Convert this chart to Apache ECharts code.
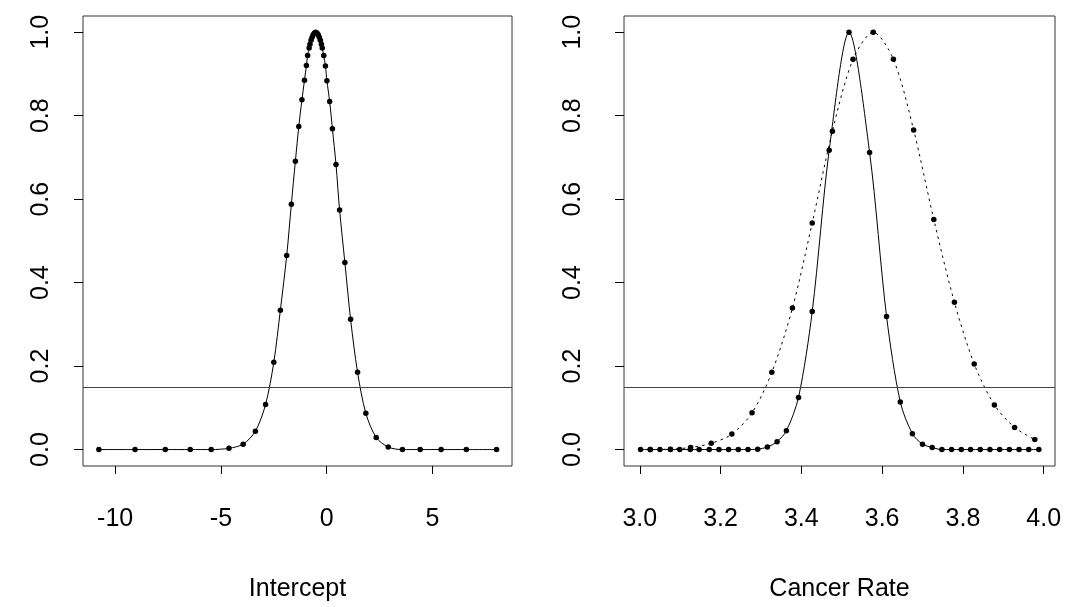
<!DOCTYPE html>
<html>
<head>
<meta charset="utf-8">
<script src="https://cdn.jsdelivr.net/npm/echarts@6/dist/echarts.min.js"></script>
<style>
  html, body { margin: 0; padding: 0; background: #fff; }
  #chart { width: 1066px; height: 607px; }
</style>
</head>
<body>
<div id="chart"></div>
<script>
// left panel: profile likelihood of the intercept
const interceptX = [-10.77, -9.06, -7.63, -6.45, -5.46, -4.62, -3.95, -3.37, -2.89, -2.50,
  -2.19, -1.89, -1.67, -1.48, -1.32, -1.17, -1.05, -0.96, -0.90, -0.83,
  -0.79, -0.74, -0.69, -0.64, -0.58, -0.52, -0.46, -0.40, -0.35, -0.30, -0.25,
  -0.21, -0.14, -0.06, 0.01, 0.14, 0.27, 0.44, 0.61, 0.86, 1.13,
  1.46, 1.85, 2.34, 2.91, 3.58, 4.42, 5.41, 6.60, 8.03]
const interceptLik = [0, 0, 0, 0, 0, 0.003, 0.013, 0.044, 0.108, 0.209,
  0.334, 0.465, 0.588, 0.691, 0.774, 0.838, 0.885, 0.920, 0.944, 0.962,
  0.971, 0.981, 0.988, 0.994, 0.998, 1.0, 0.998, 0.994, 0.988, 0.981, 0.971,
  0.962, 0.944, 0.919, 0.884, 0.834, 0.769, 0.683, 0.574, 0.448, 0.312,
  0.185, 0.087, 0.029, 0.006, 0, 0, 0, 0, 0]

// right panel: cancer rate, solid curve
const rateX = [3.002, 3.026, 3.050, 3.076, 3.099, 3.125, 3.147, 3.172, 3.196, 3.220,
  3.244, 3.268, 3.292, 3.316, 3.340, 3.363, 3.393, 3.427, 3.469, 3.518,
  3.569, 3.611, 3.645, 3.675, 3.700, 3.724, 3.748, 3.772, 3.796, 3.819,
  3.843, 3.867, 3.891, 3.915, 3.939, 3.963, 3.988]
const rateLik = [0, 0, 0, 0, 0, 0, 0, 0, 0, 0,
  0, 0, 0.001, 0.006, 0.019, 0.045, 0.125, 0.331, 0.717, 1.0,
  0.712, 0.319, 0.114, 0.038, 0.013, 0.005, 0, 0, 0, 0,
  0, 0, 0, 0, 0, 0, 0]

// right panel: cancer rate, dotted curve
const rateX2 = [3.026, 3.076, 3.126, 3.177, 3.228, 3.278, 3.327, 3.378, 3.427, 3.477,
  3.528, 3.578, 3.628, 3.678, 3.728, 3.779, 3.828, 3.878, 3.928, 3.978]
const rateLik2 = [0, 0.001, 0.005, 0.015, 0.037, 0.088, 0.185, 0.339, 0.543, 0.763,
  0.935, 1.0, 0.935, 0.766, 0.551, 0.353, 0.205, 0.107, 0.053, 0.024]

const cutoff = 0.146
const interceptTicks = [-10, -5, 0, 5]
const rateTicks = [3.0, 3.2, 3.4, 3.6, 3.8, 4.0]
const likTicks = [0, 0.2, 0.4, 0.6, 0.8, 1.0]

const font = '"Liberation Sans", Arial, Helvetica, sans-serif'
const fontSize = 25

const pairs = (xs, ys) => xs.map((x, i) => [x, ys[i]])

const xAxisBase = (gridIndex, min, max, ticks, name, fmt) => ({
  type: 'value',
  gridIndex,
  position: 'bottom',
  min,
  max,
  name,
  nameLocation: 'middle',
  nameGap: 111,
  nameTextStyle: { fontFamily: font, fontSize, color: '#000' },
  axisLine: { show: false, onZero: false },
  splitLine: { show: false },
  axisTick: { show: true, customValues: ticks, length: 8, lineStyle: { color: '#000', width: 1 } },
  axisLabel: {
    customValues: ticks, fontFamily: font, fontSize, color: '#000', margin: 41,
    formatter: fmt
  }
})

const yAxisBase = (gridIndex, margin) => ({
  type: 'value',
  gridIndex,
  position: 'left',
  min: -0.0394,
  max: 1.0389,
  axisLine: { show: false, onZero: false },
  splitLine: { show: false },
  axisTick: { show: true, customValues: likTicks, length: 9, lineStyle: { color: '#000', width: 1 } },
  axisLabel: {
    customValues: likTicks, rotate: 90, fontFamily: font, fontSize, color: '#000', margin,
    formatter: v => v.toFixed(1)
  }
})

const lineSeries = (xAxisIndex, data, type, withCut) => {
  const s = {
    type: 'line',
    xAxisIndex,
    yAxisIndex: xAxisIndex,
    data,
    smooth: 0.3,
    symbol: 'circle',
    symbolSize: 5.5,
    showAllSymbol: true,
    itemStyle: { color: '#000' },
    lineStyle: { color: '#000', width: 1, type },
    animation: false,
    z: 3
  }
  if (withCut) {
    s.markLine = {
      silent: true,
      symbol: 'none',
      label: { show: false },
      lineStyle: { color: '#444', width: 1.2, type: 'solid' },
      data: [{ yAxis: cutoff }],
      animation: false
    }
  }
  return s
}

const chart = echarts.init(document.getElementById('chart'), null, { renderer: 'canvas' })

chart.setOption({
  backgroundColor: '#fff',
  animation: false,
  grid: [
    { left: 83, top: 16, width: 429, height: 453, show: true, borderColor: '#333', borderWidth: 1, backgroundColor: 'transparent' },
    { left: 624, top: 16, width: 431, height: 453, show: true, borderColor: '#333', borderWidth: 1, backgroundColor: 'transparent' }
  ],
  xAxis: [
    xAxisBase(0, -11.52, 8.76, interceptTicks, 'Intercept', v => String(v)),
    xAxisBase(1, 2.961, 4.028, rateTicks, 'Cancer Rate', v => v.toFixed(1))
  ],
  yAxis: [
    yAxisBase(0, 29),
    yAxisBase(1, 38)
  ],
  series: [
    lineSeries(0, pairs(interceptX, interceptLik), 'solid', true),
    lineSeries(1, pairs(rateX, rateLik), 'solid', true),
    lineSeries(1, pairs(rateX2, rateLik2), [2.5, 4], false)
  ]
})

window.addEventListener('resize', () => chart.resize())
</script>
</body>
</html>
